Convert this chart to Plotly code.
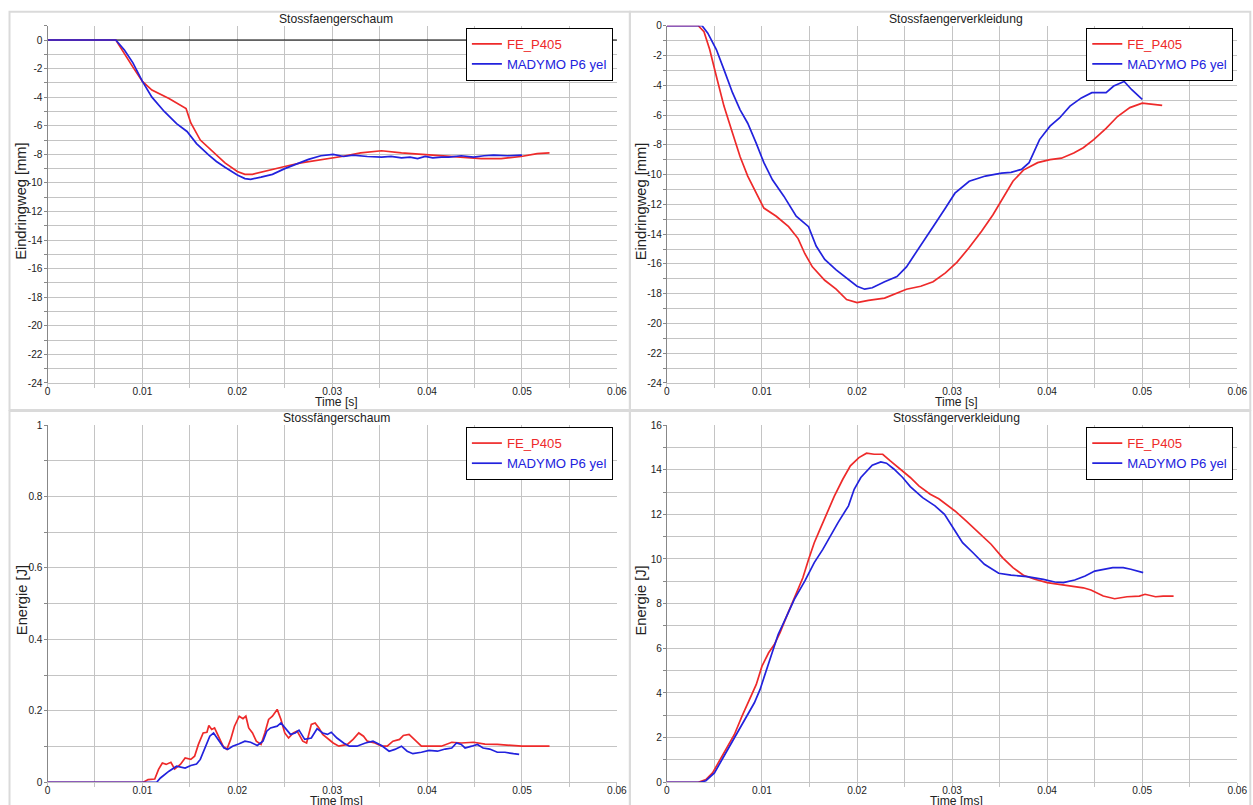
import plotly.graph_objects as go

W, H = 1253, 805

# ---------------- data ----------------
# Top-left: Stossfaengerschaum, Eindringweg [mm] vs Time [s]
tl_fe_t = [0, 0.0072, 0.0090, 0.0100, 0.0110, 0.0128, 0.0146, 0.0151, 0.0161, 0.0174, 0.0187,
           0.0200, 0.0208, 0.0216, 0.0233, 0.0250, 0.0267, 0.0288, 0.0310, 0.0330, 0.0352,
           0.0373, 0.0394, 0.0415, 0.0436, 0.0457, 0.0478, 0.0499, 0.0516, 0.0529]
tl_fe_v = [0, 0, -1.9, -2.9, -3.5, -4.1, -4.8, -5.8, -7.0, -7.8, -8.6,
           -9.2, -9.4, -9.4, -9.1, -8.85, -8.6, -8.4, -8.15, -7.9, -7.75,
           -7.9, -8.0, -8.15, -8.2, -8.3, -8.3, -8.15, -7.95, -7.9]
tl_md_t = [0, 0.0072, 0.0081, 0.0090, 0.0100, 0.0110, 0.0123, 0.0136, 0.0147, 0.0157, 0.0170,
           0.0178, 0.0187, 0.0200, 0.0208, 0.0214, 0.0225, 0.0237, 0.0250, 0.0263, 0.0275,
           0.0288, 0.0301, 0.0312, 0.0322, 0.0337, 0.0352, 0.0362, 0.0373, 0.0382, 0.0390,
           0.0398, 0.0406, 0.0415, 0.0423, 0.0436, 0.0449, 0.0460, 0.0470, 0.0485, 0.0500]
tl_md_v = [0, 0, -0.7, -1.6, -2.9, -4.0, -5.0, -5.85, -6.4, -7.25, -8.05,
           -8.5, -8.9, -9.45, -9.7, -9.75, -9.6, -9.4, -9.0, -8.65, -8.35,
           -8.1, -8.0, -8.15, -8.05, -8.15, -8.2, -8.15, -8.25, -8.2, -8.3,
           -8.15, -8.25, -8.2, -8.2, -8.1, -8.2, -8.1, -8.05, -8.1, -8.05]

# Top-right: Stossfaengerverkleidung, Eindringweg [mm] vs Time [s]
tr_fe_t = [0, 0.0033, 0.0039, 0.0045, 0.0052, 0.0060, 0.0069, 0.0077, 0.0085, 0.0094, 0.0102,
           0.0115, 0.0128, 0.0138, 0.0145, 0.0153, 0.0166, 0.0178, 0.0189, 0.0200, 0.0212,
           0.0229, 0.0242, 0.0252, 0.0267, 0.0280, 0.0293, 0.0305, 0.0318, 0.0331, 0.0343,
           0.0354, 0.0364, 0.0375, 0.0390, 0.0403, 0.0415, 0.0428, 0.0438, 0.0449, 0.0462,
           0.0474, 0.0487, 0.0500, 0.0510, 0.0521]
tr_fe_v = [0, 0, -0.4, -1.6, -3.4, -5.4, -7.2, -8.8, -10.1, -11.2, -12.25,
           -12.8, -13.5, -14.3, -15.3, -16.2, -17.1, -17.7, -18.4, -18.6, -18.45,
           -18.3, -17.95, -17.7, -17.5, -17.2, -16.6, -15.9, -14.9, -13.8, -12.7,
           -11.5, -10.45, -9.7, -9.2, -9.0, -8.9, -8.55, -8.2, -7.65, -6.9,
           -6.1, -5.5, -5.2, -5.25, -5.35]
tr_md_t = [0, 0.0037, 0.0043, 0.0052, 0.0060, 0.0069, 0.0077, 0.0085, 0.0094, 0.0102, 0.0111,
           0.0123, 0.0136, 0.0149, 0.0157, 0.0166, 0.0178, 0.0189, 0.0200, 0.0208, 0.0216,
           0.0229, 0.0242, 0.0252, 0.0267, 0.0280, 0.0293, 0.0303, 0.0318, 0.0335, 0.0352,
           0.0362, 0.0373, 0.0381, 0.0392, 0.0403, 0.0413, 0.0424, 0.0436, 0.0447, 0.0462,
           0.0470, 0.0481, 0.0489, 0.0500]
tr_md_v = [0, 0, -0.5, -1.6, -2.95, -4.5, -5.65, -6.55, -7.9, -9.2, -10.35,
           -11.45, -12.8, -13.5, -14.8, -15.7, -16.4, -16.95, -17.5, -17.7, -17.6,
           -17.2, -16.85, -16.2, -14.8, -13.5, -12.25, -11.25, -10.45, -10.1, -9.9,
           -9.85, -9.65, -9.2, -7.65, -6.75, -6.2, -5.4, -4.85, -4.5, -4.5,
           -4.05, -3.75, -4.3, -4.95]

# Bottom-left: Stossfängerschaum, Energie [J] vs Time [ms]
bl_fe_t = [0, 0.0101, 0.0106, 0.0113, 0.0117, 0.0121, 0.0125, 0.0130, 0.0134, 0.0140, 0.0145,
           0.0151, 0.0155, 0.0159, 0.0164, 0.0168, 0.0170, 0.0173, 0.0176, 0.0180, 0.0185,
           0.0189, 0.0193, 0.0197, 0.0202, 0.0206, 0.0209, 0.0212, 0.0216, 0.0220, 0.0225,
           0.0229, 0.0233, 0.0237, 0.0242, 0.0246, 0.0250, 0.0254, 0.0259, 0.0263, 0.0269,
           0.0273, 0.0278, 0.0282, 0.0286, 0.0290, 0.0295, 0.0301, 0.0307, 0.0316, 0.0322,
           0.0328, 0.0333, 0.0337, 0.0345, 0.0352, 0.0358, 0.0364, 0.0371, 0.0375, 0.0381,
           0.0388, 0.0394, 0.0402, 0.0415, 0.0426, 0.0436, 0.0449, 0.0461, 0.0474, 0.0487,
           0.0500, 0.0529]
bl_fe_v = [0, 0, 0.0075, 0.009, 0.036, 0.054, 0.05, 0.056, 0.037, 0.05, 0.068,
           0.064, 0.073, 0.106, 0.138, 0.14, 0.159, 0.148, 0.152, 0.129, 0.101,
           0.092, 0.12, 0.157, 0.185, 0.178, 0.185, 0.152, 0.138, 0.115, 0.106,
           0.138, 0.176, 0.185, 0.204, 0.176, 0.138, 0.124, 0.138, 0.143, 0.115,
           0.11, 0.162, 0.166, 0.152, 0.134, 0.124, 0.11, 0.101, 0.106, 0.12,
           0.138, 0.129, 0.115, 0.11, 0.101, 0.101, 0.115, 0.12, 0.131, 0.134,
           0.115, 0.101, 0.101, 0.101, 0.112, 0.11, 0.112, 0.107, 0.106, 0.103,
           0.101, 0.101]
bl_md_t = [0, 0.0115, 0.0119, 0.0128, 0.0136, 0.0145, 0.0151, 0.0157, 0.0161, 0.0166, 0.0171,
           0.0175, 0.0180, 0.0186, 0.0190, 0.0195, 0.0202, 0.0208, 0.0214, 0.0221, 0.0227,
           0.0231, 0.0235, 0.0242, 0.0246, 0.0250, 0.0256, 0.0261, 0.0265, 0.0271, 0.0278,
           0.0284, 0.0290, 0.0295, 0.0299, 0.0305, 0.0312, 0.0318, 0.0326, 0.0335, 0.0343,
           0.0352, 0.0360, 0.0366, 0.0373, 0.0379, 0.0385, 0.0394, 0.0402, 0.0411, 0.0419,
           0.0426, 0.0431, 0.0436, 0.0440, 0.0447, 0.0453, 0.0459, 0.0466, 0.0474, 0.0482,
           0.0491, 0.0497]
bl_md_v = [0, 0, 0.012, 0.031, 0.045, 0.04, 0.047, 0.051, 0.064, 0.096, 0.129,
           0.138, 0.12, 0.096, 0.092, 0.101, 0.108, 0.115, 0.112, 0.103, 0.115,
           0.143, 0.152, 0.157, 0.166, 0.152, 0.134, 0.138, 0.146, 0.12, 0.124,
           0.15, 0.138, 0.134, 0.14, 0.124, 0.11, 0.101, 0.101, 0.11, 0.115,
           0.103, 0.087, 0.092, 0.101, 0.087, 0.08, 0.084, 0.089, 0.087, 0.093,
           0.096, 0.11, 0.106, 0.096, 0.101, 0.106, 0.096, 0.093, 0.084, 0.084,
           0.08, 0.078]

# Bottom-right: Stossfängerverkleidung, Energie [J] vs Time [ms]
br_fe_t = [0, 0.0033, 0.0041, 0.0048, 0.0054, 0.0062, 0.0071, 0.0079, 0.0088, 0.0094, 0.0100,
           0.0107, 0.0113, 0.0119, 0.0126, 0.0134, 0.0143, 0.0149, 0.0155, 0.0161, 0.0168,
           0.0176, 0.0185, 0.0193, 0.0202, 0.0210, 0.0218, 0.0227, 0.0235, 0.0248, 0.0256,
           0.0265, 0.0277, 0.0286, 0.0294, 0.0303, 0.0315, 0.0328, 0.0341, 0.0353, 0.0364,
           0.0375, 0.0387, 0.0400, 0.0412, 0.0425, 0.0438, 0.0446, 0.0459, 0.0471, 0.0484,
           0.0497, 0.0503, 0.0514, 0.0522, 0.0533]
br_fe_v = [0, 0, 0.12, 0.42, 0.87, 1.46, 2.14, 2.96, 3.78, 4.38, 5.2,
           5.8, 6.17, 6.7, 7.44, 8.27, 9.16, 9.98, 10.73, 11.33, 12.0,
           12.8, 13.57, 14.17, 14.54, 14.74, 14.69, 14.69, 14.39, 13.95, 13.65,
           13.27, 12.9, 12.7, 12.45, 12.15, 11.7, 11.18, 10.66, 10.06, 9.61,
           9.27, 9.09, 8.94, 8.86, 8.79, 8.71, 8.61, 8.34, 8.22, 8.31,
           8.34, 8.42, 8.31, 8.34, 8.34]
br_md_t = [0, 0.0035, 0.0041, 0.0050, 0.0058, 0.0067, 0.0075, 0.0083, 0.0092, 0.0098, 0.0105,
           0.0111, 0.0117, 0.0126, 0.0134, 0.0145, 0.0155, 0.0164, 0.0172, 0.0180, 0.0191,
           0.0197, 0.0204, 0.0210, 0.0216, 0.0225, 0.0231, 0.0239, 0.0248, 0.0256, 0.0269,
           0.0282, 0.0292, 0.0301, 0.0311, 0.0322, 0.0334, 0.0349, 0.0362, 0.0379, 0.0396,
           0.0408, 0.0417, 0.0429, 0.0440, 0.0450, 0.0461, 0.0469, 0.0480, 0.0488, 0.0501]
br_md_v = [0, 0, 0.07, 0.42, 1.02, 1.69, 2.29, 2.88, 3.56, 4.16, 5.05,
           5.8, 6.62, 7.44, 8.19, 9.01, 9.84, 10.43, 11.03, 11.63, 12.38,
           13.12, 13.65, 13.95, 14.2, 14.35, 14.29, 14.02, 13.65, 13.24, 12.75,
           12.38, 12.0, 11.4, 10.73, 10.28, 9.76, 9.36, 9.28, 9.21, 9.09,
           8.97, 8.94, 9.06, 9.24, 9.46, 9.54, 9.61, 9.61, 9.54, 9.39]

ref_line_t = [0, 0.0603]
ref_line_v = [0, 0]

names = ["FE_P405", "MADYMO P6 yel"]
titles = ["Stossfaengerschaum", "Stossfaengerverkleidung", "Stossfängerschaum", "Stossfängerverkleidung"]
x_titles = ["Time [s]", "Time [s]", "Time [ms]", "Time [ms]"]
y_titles = ["Eindringweg [mm]", "Eindringweg [mm]", "Energie [J]", "Energie [J]"]

x_ticks = [i * 0.005 for i in range(13)]
x_ticktext = ["0", "", "0.01", "", "0.02", "", "0.03", "", "0.04", "", "0.05", "", "0.06"]

y_ticks_tl = list(range(-24, 2))
y_ticktext_tl = [str(v) if v % 2 == 0 else "" for v in y_ticks_tl]
y_ticks_tr = list(range(-24, 1))
y_ticktext_tr = [str(v) if v % 2 == 0 else "" for v in y_ticks_tr]
y_ticks_bl = [i / 10 for i in range(11)]
y_ticktext_bl = ["0", "", "0.2", "", "0.4", "", "0.6", "", "0.8", "", "1"]
y_ticks_br = list(range(0, 17))
y_ticktext_br = [str(v) if v % 2 == 0 else "" for v in y_ticks_br]

# ---------------- styling ----------------
RED = "#ee2a2a"
BLUE = "#2222dd"
FONT = "Liberation Sans"
GRID = "#c4c4c4"

# the page photo is slightly scaled/offset; layout positions are given in
# target picture pixels and converted here
SX, OX = 0.989, 3.5
SY, OY = 0.9856, 5.3
FS = 1 / 0.987


def px_x(p):
    return ((p - OX) / SX) / W


def px_y(p):
    return 1 - ((p - OY) / SY) / H


# plot areas in target pixels (left, right, top, bottom)
areas = [(48, 617, 26, 383), (667, 1237, 26, 383), (48, 617, 425, 782), (667, 1237, 425, 782)]

fig = go.Figure()

panel_data = [
    (tl_fe_t, tl_fe_v, tl_md_t, tl_md_v),
    (tr_fe_t, tr_fe_v, tr_md_t, tr_md_v),
    (bl_fe_t, bl_fe_v, bl_md_t, bl_md_v),
    (br_fe_t, br_fe_v, br_md_t, br_md_v),
]

for i, (ft, fv, mt, mv) in enumerate(panel_data):
    sfx = "" if i == 0 else str(i + 1)
    leg = "legend" if i == 0 else "legend" + str(i + 1)
    if i == 0:
        fig.add_trace(go.Scatter(x=ref_line_t, y=ref_line_v, mode="lines",
                                 line=dict(color="black", width=1.2), showlegend=False,
                                 xaxis="x" + sfx, yaxis="y" + sfx, hoverinfo="skip",
                                 cliponaxis=False))
    fig.add_trace(go.Scatter(x=ft, y=fv, mode="lines", line=dict(color=RED, width=1.7),
                             name=f"<span style='color:{RED}'>{names[0]}</span>",
                             xaxis="x" + sfx, yaxis="y" + sfx, legend=leg))
    fig.add_trace(go.Scatter(x=mt, y=mv, mode="lines", line=dict(color=BLUE, width=1.7),
                             name=f"<span style='color:{BLUE}'>{names[1]}</span>",
                             xaxis="x" + sfx, yaxis="y" + sfx, legend=leg))

y_specs = [
    ([-24, 1], y_ticks_tl, y_ticktext_tl),
    ([-24, 0], y_ticks_tr, y_ticktext_tr),
    ([0, 1], y_ticks_bl, y_ticktext_bl),
    ([0, 16], y_ticks_br, y_ticktext_br),
]

layout = dict(
    width=W, height=H,
    margin=dict(l=0, r=0, t=0, b=0),
    paper_bgcolor="white", plot_bgcolor="white",
    font=dict(family=FONT, size=10 * FS, color="#222"),
    showlegend=True,
)

shapes = []
annotations = []
frames = [(10, 630, 12, 410), (630, 1250, 12, 410), (10, 630, 411, 806), (630, 1250, 411, 806)]
for (l, r, t, b) in frames:
    shapes.append(dict(type="rect", xref="paper", yref="paper",
                       x0=px_x(l), x1=px_x(r), y0=px_y(b), y1=px_y(t),
                       line=dict(color="#dadada", width=2), fillcolor="rgba(0,0,0,0)", layer="below"))

for i, (l, r, t, b) in enumerate(areas):
    sfx = "" if i == 0 else str(i + 1)
    rng, yt, ytt = y_specs[i]
    layout["xaxis" + sfx] = dict(
        domain=[px_x(l), px_x(r)], range=[0, 0.06], anchor="y" + sfx,
        tickmode="array", tickvals=x_ticks, ticktext=x_ticktext,
        showgrid=True, gridcolor=GRID, gridwidth=1, zeroline=False,
        showline=True, linecolor=GRID, linewidth=1,
        ticks="outside", ticklen=4, tickcolor=GRID,
        ticklabelstandoff=-5,
        tickfont=dict(size=10 * FS, family=FONT, color="#222"),
    )
    layout["yaxis" + sfx] = dict(
        domain=[px_y(b), px_y(t)], range=rng, anchor="x" + sfx,
        tickmode="array", tickvals=yt, ticktext=ytt,
        showgrid=True, gridcolor=GRID, gridwidth=1, zeroline=False,
        showline=True, linecolor="#888", linewidth=1,
        ticks="outside", ticklen=3, tickcolor="#888",
        ticklabelstandoff=-1,
        tickfont=dict(size=10 * FS, family=FONT, color="#222"),
    )
    leg = "legend" if i == 0 else "legend" + str(i + 1)
    layout[leg] = dict(
        x=px_x(r - 4), y=px_y(t + 2), xanchor="right", yanchor="top",
        xref="paper", yref="paper",
        bgcolor="white", bordercolor="black", borderwidth=1,
        font=dict(family=FONT, size=13 * FS), tracegroupgap=0,
        itemwidth=30,
    )
    cx = (l + r) / 2 + 4
    annotations.append(dict(text=titles[i], xref="paper", yref="paper",
                            x=px_x(cx), y=px_y(t - 7), xanchor="center", yanchor="middle",
                            showarrow=False, font=dict(family=FONT, size=12 * FS, color="#222")))
    annotations.append(dict(text=x_titles[i], xref="paper", yref="paper",
                            x=px_x(cx), y=px_y(b + 19), xanchor="center", yanchor="middle",
                            showarrow=False, font=dict(family=FONT, size=12 * FS, color="#222")))
    annotations.append(dict(text=y_titles[i], xref="paper", yref="paper",
                            x=px_x(l - 26), y=px_y((t + b) / 2 - 3), xanchor="center", yanchor="middle",
                            textangle=-90, showarrow=False,
                            font=dict(family=FONT, size=14.5 * FS, color="#222")))

layout["shapes"] = shapes
layout["annotations"] = annotations
fig.update_layout(**layout)

fig.write_html(
    "out.html",
    config={"displayModeBar": False},
    post_script=("document.documentElement.style.margin='0';"
                 "document.documentElement.style.overflow='hidden';"
                 "document.body.style.margin='0';document.body.style.padding='0';"
                 "document.body.style.overflow='hidden';"),
)
